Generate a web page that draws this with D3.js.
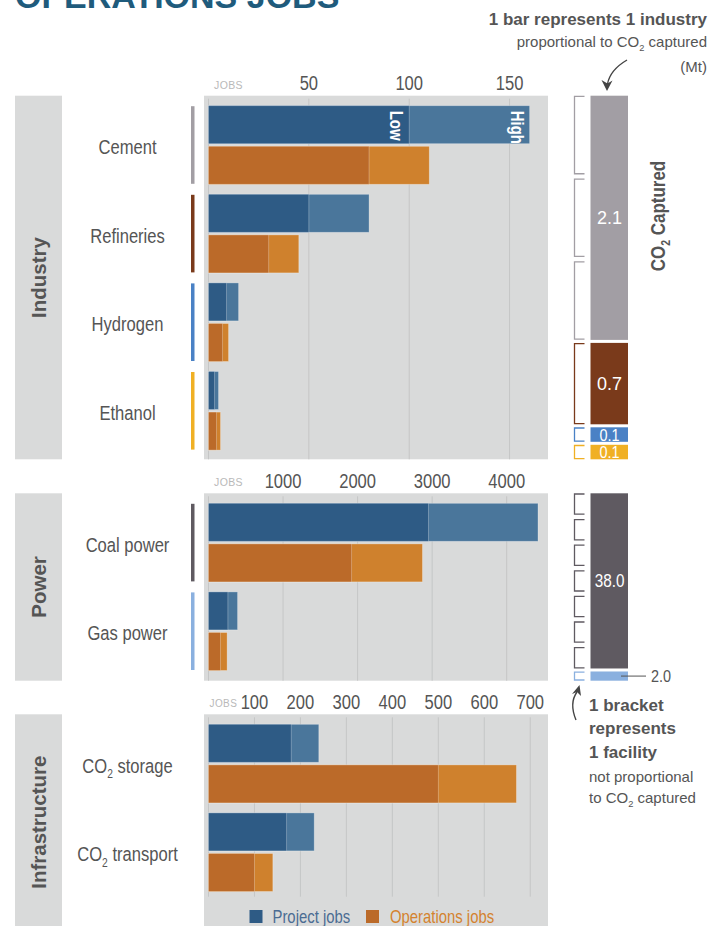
<html>
<head>
<meta charset="utf-8">
<title>Operations jobs</title>
<script src="https://d3js.org/d3.v7.min.js"></script>
<style>
body { margin: 0; background: #fff; }
svg text { font-family: "Liberation Sans", Arial, sans-serif; }
</style>
</head>
<body>
<script>

// ---- data ----
var industryCats = ["Cement", "Refineries", "Hydrogen", "Ethanol"];
var industryProjectLow = [100, 50, 9, 3];
var industryProjectHigh = [160, 80, 15, 5];
var industryOpsLow = [80, 30, 7, 4];
var industryOpsHigh = [110, 45, 10, 6];
var industryCO2 = [2.1, 0.7, 0.1, 0.1];
var industryFacilities = [3, 1, 1, 1];
var industryTicks = [0, 50, 100, 150];

var powerCats = ["Coal power", "Gas power"];
var powerProjectLow = [2950, 260];
var powerProjectHigh = [4420, 390];
var powerOpsLow = [1920, 160];
var powerOpsHigh = [2870, 250];
var powerCO2 = [38.0, 2.0];
var powerFacilities = [7, 1];
var powerTicks = [0, 1000, 2000, 3000, 4000];

var infraCats = ["CO2 storage", "CO2 transport"];
var infraProjectLow = [180, 170];
var infraProjectHigh = [240, 230];
var infraOpsLow = [500, 100];
var infraOpsHigh = [670, 140];
var infraTicks = [0, 100, 200, 300, 400, 500, 600, 700];

var industryColors = ["#a29ea4", "#7a3a1b", "#4a81c5", "#f0b024"];
var powerColors = ["#5f5a61", "#8ab0df"];

var colProjLow = "#2e5b85", colProjHigh = "#4a769b";
var colOpsLow = "#bb6a29", colOpsHigh = "#cf812d";
var panelGray = "#d9dada", gridGray = "#c5c6c6", textGray = "#555";

var width = 722, height = 926;
var svg = d3.select("body").append("svg")
    .attr("width", width)
    .attr("height", height);

// text helper: condensed look by squeezing horizontally (no narrow font installed)
function label(parent, x, y, o) {
  o = o || {};
  var tr = "translate(" + x + "," + y + ")";
  if (o.rot) tr += " rotate(" + o.rot + ")";
  tr += " scale(" + (o.h || 1) + ",1)";
  var t = parent.append("text")
      .attr("transform", tr)
      .attr("text-anchor", o.anchor || "start")
      .attr("fill", o.fill || textGray)
      .style("font-size", (o.size || 16) + "px")
      .style("font-weight", o.bold ? "bold" : "normal");
  if (o.ls) t.style("letter-spacing", o.ls + "px");
  if (o.text != null) co2Text(t, String(o.text), o.size || 16);
  return t;
}

// write a label that may hold a subscript 2 in "CO2"
function co2Text(sel, str, size) {
  var parts = str.split("CO2");
  if (parts.length == 1) { sel.text(str); return; }
  sel.append("tspan").text(parts[0] + "CO");
  sel.append("tspan").text("2").style("font-size", (size * 0.62) + "px").attr("dy", size * 0.28);
  sel.append("tspan").text(parts[1]).attr("dy", -size * 0.28);
}

var NARROW = 0.85;

// title (cut at top)
label(svg, 15, 8, {size: 34, bold: true, fill: "#1f5b7c", text: "OPERATIONS JOBS"});

function drawPanel(p) {
  var x = d3.scaleLinear().domain([0, p.xMax]).range([208.5, 547.7]);
  var n = p.cats.length;
  var step = 88.6, gap = 10;
  var y = d3.scaleBand()
      .domain(p.cats)
      .range([p.top + 10, p.top + 10 + n * step - gap])
      .paddingInner(gap / step);
  var barH = (y.bandwidth() - 2.6) / 2;

  // group label box
  svg.append("rect").attr("x", 15).attr("y", p.top)
      .attr("width", 47).attr("height", p.bottom - p.top).attr("fill", panelGray);
  var gy = (p.top + Math.min(p.bottom, height)) / 2 + (p.bottom > height ? 2 : 0);
  label(svg, 45.5, gy, {rot: -90, anchor: "middle", size: 20.5, bold: true, h: 1, text: p.group});

  // chart panel
  svg.append("rect").attr("x", 204).attr("y", p.top)
      .attr("width", 344).attr("height", p.bottom - p.top).attr("fill", panelGray);

  svg.append("g").selectAll("line")
    .data(p.ticks)
    .enter().append("line")
      .attr("x1", function(d) { return x(d); })
      .attr("x2", function(d) { return x(d); })
      .attr("y1", p.top + 3).attr("y2", p.gridBottom)
      .attr("stroke", gridGray).attr("stroke-width", 1);

  var tg = svg.append("g");
  p.ticks.filter(function(d) { return d > 0; }).forEach(function(d) {
    label(tg, x(d), p.top - 5.5, {anchor: "middle", size: 19.5, h: NARROW, text: d});
  });

  label(svg, p.jobsX, p.top - 7, {size: p.jobsSize, fill: "#b9b9b9", ls: 0.4, text: "JOBS"});

  // bars
  var rows = p.cats.map(function(c, i) {
    return {cat: c, pl: p.projLow[i], ph: p.projHigh[i], ol: p.opsLow[i], oh: p.opsHigh[i], i: i};
  });
  var g = svg.append("g").selectAll("g").data(rows).enter().append("g");
  function bar(yOff, v, col) {
    g.append("rect")
      .attr("x", x(0))
      .attr("y", function(d) { return y(d.cat) + yOff; })
      .attr("width", function(d) { return x(v(d)) - x(0); })
      .attr("height", barH)
      .attr("fill", col)
      .attr("stroke", "rgba(255,255,255,0.35)").attr("stroke-width", 0.8);
  }
  bar(0, function(d) { return d.ph; }, colProjHigh);
  bar(0, function(d) { return d.pl; }, colProjLow);
  bar(barH + 2.6, function(d) { return d.oh; }, colOpsHigh);
  bar(barH + 2.6, function(d) { return d.ol; }, colOpsLow);

  // category labels
  g.each(function(d) {
    label(d3.select(this), 127.5, y(d.cat) + y.bandwidth() / 2 + 9,
      {anchor: "middle", size: 19.5, h: NARROW, text: d.cat});
  });

  // colour tick beside the category
  if (p.colors) {
    g.append("rect")
        .attr("x", 191).attr("width", 3.5)
        .attr("y", function(d) { return y(d.cat) + 0.5; })
        .attr("height", y.bandwidth() - 1)
        .attr("fill", function(d) { return p.colors[d.i]; });
  }

  // Low / High markers
  if (p.lowHigh) {
    var r0 = rows[0];
    [["Low", r0.pl], ["High", r0.ph]].forEach(function(t) {
      label(svg, x(t[1]) - 19, y(r0.cat) + 5, {rot: 90, size: 18, bold: true, h: 0.83, fill: "#fff", text: t[0]});
    });
  }

  // CO2 captured column with facility brackets
  if (p.co2) {
    var H = p.bottom - p.top, sgap = 3;
    var avail = H - sgap * (p.co2.length - 1);
    var s = d3.scaleLinear().domain([0, d3.sum(p.co2)]).range([0, avail]);
    var small = p.co2.filter(function(v) { return s(v) < p.minH; });
    if (small.length) {
      var big = p.co2.filter(function(v) { return s(v) >= p.minH; });
      s = d3.scaleLinear().domain([0, d3.sum(big)]).range([0, avail - small.length * p.minH]);
    }
    var segs = [], yy = p.top;
    p.co2.forEach(function(v, i) {
      var h = Math.max(p.minH, s(v));
      segs.push({v: v, y: yy, h: h, i: i, n: p.facilities[i]});
      yy += h + sgap;
    });
    var cg = svg.append("g").selectAll("g").data(segs).enter().append("g");
    cg.append("rect")
        .attr("x", 590.5).attr("width", 37.5)
        .attr("y", function(d) { return d.y; })
        .attr("height", function(d) { return d.h; })
        .attr("fill", function(d) { return p.colors[d.i]; });
    cg.each(function(d) {
      var sel = d3.select(this);
      var bg = 4, bh = (d.h - bg * (d.n - 1)) / d.n;
      for (var k = 0; k < d.n; k++) {
        var b0 = d.y + k * (bh + bg) + 0.7, b1 = b0 + bh - 1.4;
        sel.append("path")
          .attr("d", "M584.5," + b0 + "H574.5V" + b1 + "H584.5")
          .attr("fill", "none")
          .attr("stroke", p.colors[d.i]).attr("stroke-width", 1.3);
      }
      var txt = d3.format(".1f")(d.v);
      if (d.h > 12) {
        var bigSeg = d.h > 20;
        label(sel, 609.5, d.y + d.h / 2 + (bigSeg ? 6.5 : 6.2),
          {anchor: "middle", size: bigSeg ? 18 : 17, h: bigSeg && d.v < 10 ? 1 : NARROW, fill: "#fff", text: txt});
      } else {
        var cy = d.y + d.h / 2;
        sel.append("line")
          .attr("x1", 621).attr("x2", 646).attr("y1", cy).attr("y2", cy)
          .attr("stroke", "#555").attr("stroke-width", 1);
        label(sel, 651, cy + 6, {size: 17, h: NARROW, text: txt});
      }
    });
  }
}

drawPanel({group: "Industry", cats: industryCats, projLow: industryProjectLow, projHigh: industryProjectHigh,
  opsLow: industryOpsLow, opsHigh: industryOpsHigh, ticks: industryTicks, xMax: 169,
  top: 95.7, bottom: 459.3, gridBottom: 459.3, jobsX: 214, jobsSize: 10.5, colors: industryColors, lowHigh: true,
  co2: industryCO2, facilities: industryFacilities, minH: 14.5});

drawPanel({group: "Power", cats: powerCats, projLow: powerProjectLow, projHigh: powerProjectHigh,
  opsLow: powerOpsLow, opsHigh: powerOpsHigh, ticks: powerTicks, xMax: 4550,
  top: 493.3, bottom: 680.7, gridBottom: 680.7, jobsX: 214, jobsSize: 10.5, colors: powerColors,
  co2: powerCO2, facilities: powerFacilities, minH: 8});

drawPanel({group: "Infrastructure", cats: infraCats, projLow: infraProjectLow, projHigh: infraProjectHigh,
  opsLow: infraOpsLow, opsHigh: infraOpsHigh, ticks: infraTicks, xMax: 738,
  top: 714.3, bottom: 940, gridBottom: 896.7, jobsX: 209.5, jobsSize: 10});

// CO2 captured axis title
label(svg, 665, 216, {rot: -90, anchor: "middle", size: 19.5, bold: true, h: 0.87, text: "CO2 Captured"});

// annotations, top right
label(svg, 707, 25, {anchor: "end", size: 17, bold: true, text: "1 bar represents 1 industry"});
label(svg, 707, 46.5, {anchor: "end", size: 15, text: "proportional to CO2 captured"});
label(svg, 707, 72, {anchor: "end", size: 15, text: "(Mt)"});

svg.append("path")
    .attr("d", "M627,60 Q610,70 607.5,84")
    .attr("fill", "none").attr("stroke", "#444").attr("stroke-width", 1.4);
svg.append("path")
    .attr("d", "M601.5,80 L607,91 L612.5,80.5 L607.5,83.5 Z")
    .attr("fill", "#444");

// annotations, bottom right
["1 bracket", "represents", "1 facility"].forEach(function(t, i) {
  label(svg, 589, 711 + i * 23.3, {size: 17, bold: true, text: t});
});
label(svg, 589, 782, {size: 15, text: "not proportional"});
label(svg, 589, 803, {size: 15, text: "to CO2 captured"});

svg.append("path")
    .attr("d", "M576,720 Q569,703 577,692")
    .attr("fill", "none").attr("stroke", "#444").attr("stroke-width", 1.4);
svg.append("path")
    .attr("d", "M572,694 L579.5,685 L581,696 L577,692 Z")
    .attr("fill", "#444");

// legend
var leg = svg.append("g");
leg.append("rect").attr("x", 249.5).attr("y", 910).attr("width", 13).attr("height", 13).attr("fill", colProjLow);
label(leg, 272.5, 923, {size: 17.5, h: NARROW, fill: "#4b6c93", text: "Project jobs"});
leg.append("rect").attr("x", 366).attr("y", 910).attr("width", 13).attr("height", 13).attr("fill", colOpsLow);
label(leg, 390, 923, {size: 17.5, h: NARROW, fill: "#d4822e", text: "Operations jobs"});

</script>
</body>
</html>
